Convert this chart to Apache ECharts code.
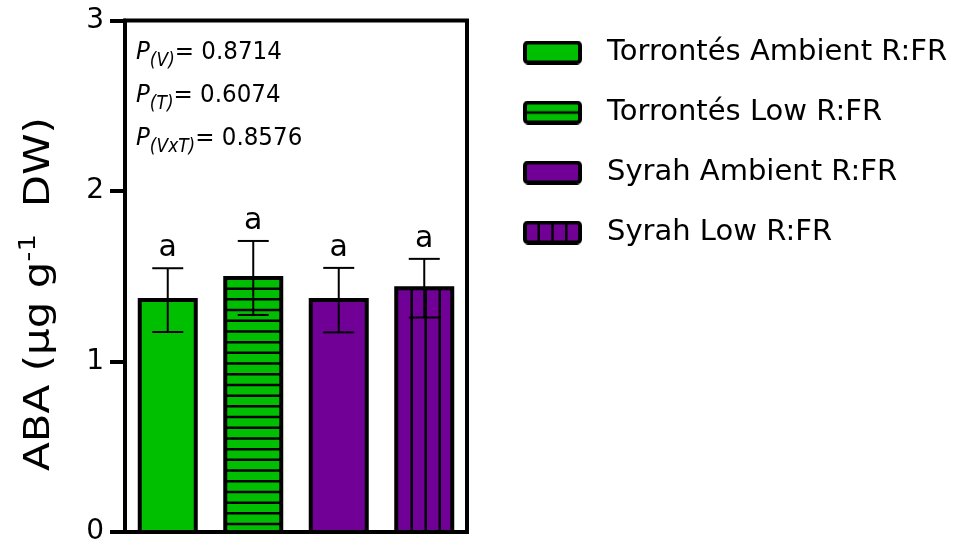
<!DOCTYPE html>
<html>
<head>
<meta charset="utf-8">
<title>ABA</title>
<script src="https://cdn.jsdelivr.net/npm/echarts@6/dist/echarts.min.js"></script>
<style>
  html, body { margin: 0; padding: 0; background: #fff; }
  #chart { width: 972px; height: 546px; }
</style>
</head>
<body>
<div id="chart"></div>
<script>
// ABA content per treatment group (mean ± SE)
const groups = ['Torrontés Ambient R:FR', 'Torrontés Low R:FR', 'Syrah Ambient R:FR', 'Syrah Low R:FR'];
const abaMean = [1.36, 1.49, 1.36, 1.43];
const abaSE = [0.187, 0.217, 0.189, 0.172];
const sigLetters = ['a', 'a', 'a', 'a'];
const yTicks = [0, 1, 2, 3];
const pTerms = ['V', 'T', 'VxT'];
const pValues = ['0.8714', '0.6074', '0.8576'];

// Appearance per group
const fills = ['#00bf00', '#00bf00', '#700096', '#700096'];
const hatch = ['none', 'horizontal', 'none', 'vertical'];
const FONT = 'DejaVu Sans';

// Small canvas swatches used as legend icons (solid / striped fills with a heavy outline)
function makeIcon(i) {
  const w = 59, h = 24;
  const c = document.createElement('canvas');
  c.width = w; c.height = h;
  const ctx = c.getContext('2d');
  ctx.fillStyle = fills[i];
  ctx.fillRect(2, 2, w - 4, h - 4);
  ctx.strokeStyle = '#000';
  ctx.lineWidth = 2.5;
  if (hatch[i] === 'horizontal') {
    ctx.beginPath(); ctx.moveTo(2, h / 2); ctx.lineTo(w - 2, h / 2); ctx.stroke();
  } else if (hatch[i] === 'vertical') {
    ctx.beginPath();
    for (let k = 1; k < 4; k++) {
      const x = 2 + (w - 4) * k / 4;
      ctx.moveTo(x, 2); ctx.lineTo(x, h - 2);
    }
    ctx.stroke();
  }
  ctx.lineWidth = 4;
  ctx.beginPath();
  if (ctx.roundRect) ctx.roundRect(2, 2, w - 4, h - 4, 3); else ctx.rect(2, 2, w - 4, h - 4);
  ctx.stroke();
  return 'image://' + c.toDataURL();
}

function renderBar(params, api) {
  const si = params.seriesIndex;
  const cat = api.value(0), m = api.value(1), se = api.value(2);
  const base = api.coord([cat, 0]);
  const top = api.coord([cat, m]);
  const hi = api.coord([cat, m + se]);
  const lo = api.coord([cat, m - se]);
  const bw = api.size([1, 0])[0] * 0.655;
  const cx = base[0];
  const x0 = cx - bw / 2, y0 = top[1], h = base[1] - top[1];
  const children = [{
    type: 'rect', shape: { x: x0, y: y0, width: bw, height: h },
    style: { fill: fills[si], stroke: null }
  }];
  if (hatch[si] === 'horizontal') {
    for (let y = y0 + 10.7; y < base[1] - 3; y += 10.7) {
      children.push({ type: 'line', shape: { x1: x0, y1: y, x2: x0 + bw, y2: y },
        style: { stroke: '#000', lineWidth: 2.5 } });
    }
  } else if (hatch[si] === 'vertical') {
    for (let k = 1; k < 4; k++) {
      const x = x0 + bw * k / 4 + 1.5;
      children.push({ type: 'line', shape: { x1: x, y1: y0, x2: x, y2: base[1] },
        style: { stroke: '#000', lineWidth: 2.5 } });
    }
  }
  children.push({
    type: 'rect', shape: { x: x0, y: y0, width: bw, height: h },
    style: { fill: null, stroke: '#000', lineWidth: 4 }
  });
  const cap = 15.5;
  children.push({ type: 'line', shape: { x1: cx, y1: lo[1], x2: cx, y2: hi[1] }, style: { stroke: '#000', lineWidth: 2 } });
  children.push({ type: 'line', shape: { x1: cx - cap, y1: hi[1], x2: cx + cap, y2: hi[1] }, style: { stroke: '#000', lineWidth: 2 } });
  children.push({ type: 'line', shape: { x1: cx - cap, y1: lo[1], x2: cx + cap, y2: lo[1] }, style: { stroke: '#000', lineWidth: 2 } });
  children.push({
    type: 'text', x: cx, y: hi[1] - 20,
    style: { text: sigLetters[cat], fontFamily: FONT, fontSize: 30, fill: '#000',
      textAlign: 'center', textVerticalAlign: 'middle' }
  });
  return { type: 'group', children };
}

const series = groups.map((g, i) => ({
  type: 'custom',
  name: g,
  renderItem: renderBar,
  encode: { x: 0, y: 1 },
  data: [[i, abaMean[i], abaSE[i]]],
  itemStyle: { color: fills[i] },
  clip: false
}));

// P-value annotation lines
const pGraphics = pTerms.map((t, i) => ({
  type: 'text', x: 136, y: 52 + i * 43, scaleY: 1.1,
  style: {
    text: '{p|P}{s|(' + t + ')}{n|= ' + pValues[i] + '}',
    rich: {
      p: { fontFamily: FONT, fontStyle: 'italic', fontSize: 23, lineHeight: 34, fill: '#000' },
      s: { fontFamily: FONT, fontStyle: 'italic', fontSize: 17, lineHeight: 17, verticalAlign: 'bottom', fill: '#000' },
      n: { fontFamily: FONT, fontSize: 23, lineHeight: 34, fill: '#000' }
    },
    textVerticalAlign: 'middle'
  }
}));

// Rotated y-axis title with superscript
const yTitle = {
  type: 'text', x: 40, y: 294, rotation: Math.PI / 2, scaleX: 1.2,
  style: {
    text: '{m|ABA (μg g}{s|-1}{m|  DW)}',
    rich: {
      m: { fontFamily: FONT, fontSize: 35, lineHeight: 44, fill: '#000' },
      s: { fontFamily: FONT, fontSize: 23, lineHeight: 31, verticalAlign: 'top', fill: '#000' }
    },
    textAlign: 'center', textVerticalAlign: 'middle'
  }
};

const chart = echarts.init(document.getElementById('chart'), null, { renderer: 'canvas' });
chart.setOption({
  animation: false,
  backgroundColor: '#fff',
  grid: { left: 125, right: 505, top: 20.5, bottom: 13, show: true, borderColor: '#000', borderWidth: 4, backgroundColor: 'transparent' },
  xAxis: {
    type: 'category', data: groups,
    axisLine: { show: true, lineStyle: { color: '#000', width: 4 } },
    axisTick: { show: false }, axisLabel: { show: false }, splitLine: { show: false }
  },
  yAxis: {
    type: 'value', min: yTicks[0], max: yTicks[yTicks.length - 1], interval: 1,
    axisLine: { show: true, lineStyle: { color: '#000', width: 4 } },
    axisTick: { show: true, length: 15, lineStyle: { color: '#000', width: 4 } },
    axisLabel: { fontFamily: FONT, fontSize: 28, color: '#000', margin: 21 },
    splitLine: { show: false }
  },
  legend: {
    orient: 'vertical', left: 518, top: 33,
    itemWidth: 59, itemHeight: 24, itemGap: 31,
    selectedMode: false,
    textStyle: { fontFamily: FONT, fontSize: 29, color: '#000', lineHeight: 24, padding: [0, 0, 0, 20] },
    data: groups.map((g, i) => ({ name: g, icon: makeIcon(i) }))
  },
  graphic: [yTitle].concat(pGraphics),
  series
});
</script>
</body>
</html>
